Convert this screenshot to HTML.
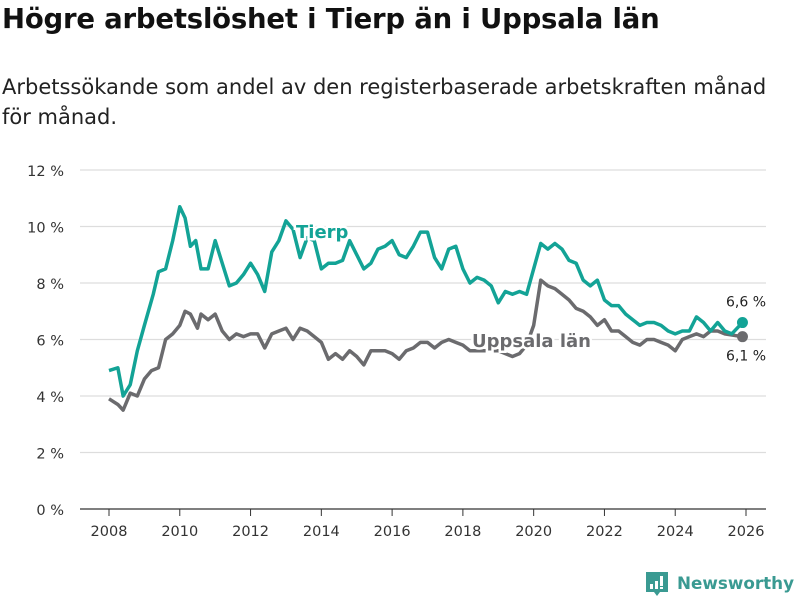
<!DOCTYPE html>
<html><head><meta charset="utf-8">
<style>
body{margin:0;background:#fff;font-family:"DejaVu Sans","Liberation Sans",sans-serif;}
#wrap{position:relative;width:800px;height:600px;overflow:hidden;}
h1{position:absolute;left:2px;top:3px;margin:0;font-size:27.5px;font-weight:bold;color:#111;white-space:nowrap;letter-spacing:-0.2px;}
p.sub{position:absolute;left:2px;top:72px;margin:0;font-size:21px;line-height:30px;color:#222;width:798px;white-space:nowrap;}
svg{position:absolute;left:0;top:0;font-family:"DejaVu Sans","Liberation Sans",sans-serif;}
</style></head><body>
<div id="wrap">
<h1>Högre arbetslöshet i Tierp än i Uppsala län</h1>
<p class="sub">Arbetssökande som andel av den registerbaserade arbetskraften månad<br>för månad.</p>
<svg id="chart" width="800" height="600"></svg>
</div>
<script>
const yTicks=[0,2,4,6,8,10,12];
const xTicks=[2008,2010,2012,2014,2016,2018,2020,2022,2024,2026];
const tierpDates=[2008.0,2008.25,2008.4,2008.6,2008.8,2009.0,2009.25,2009.4,2009.6,2009.8,2010.0,2010.15,2010.3,2010.45,2010.6,2010.8,2011.0,2011.2,2011.4,2011.6,2011.8,2012.0,2012.2,2012.4,2012.6,2012.8,2013.0,2013.2,2013.4,2013.6,2013.8,2014.0,2014.2,2014.4,2014.6,2014.8,2015.0,2015.2,2015.4,2015.6,2015.8,2016.0,2016.2,2016.4,2016.6,2016.8,2017.0,2017.2,2017.4,2017.6,2017.8,2018.0,2018.2,2018.4,2018.6,2018.8,2019.0,2019.2,2019.4,2019.6,2019.8,2020.0,2020.2,2020.4,2020.6,2020.8,2021.0,2021.2,2021.4,2021.6,2021.8,2022.0,2022.2,2022.4,2022.6,2022.8,2023.0,2023.2,2023.4,2023.6,2023.8,2024.0,2024.2,2024.4,2024.6,2024.8,2025.0,2025.2,2025.4,2025.6,2025.9];
const tierpValues=[4.9,5.0,4.0,4.4,5.6,6.5,7.6,8.4,8.5,9.5,10.7,10.3,9.3,9.5,8.5,8.5,9.5,8.7,7.9,8.0,8.3,8.7,8.3,7.7,9.1,9.5,10.2,9.9,8.9,9.6,9.5,8.5,8.7,8.7,8.8,9.5,9.0,8.5,8.7,9.2,9.3,9.5,9.0,8.9,9.3,9.8,9.8,8.9,8.5,9.2,9.3,8.5,8.0,8.2,8.1,7.9,7.3,7.7,7.6,7.7,7.6,8.5,9.4,9.2,9.4,9.2,8.8,8.7,8.1,7.9,8.1,7.4,7.2,7.2,6.9,6.7,6.5,6.6,6.6,6.5,6.3,6.2,6.3,6.3,6.8,6.6,6.3,6.6,6.3,6.2,6.6];
const uppsalaDates=[2008.0,2008.25,2008.4,2008.6,2008.8,2009.0,2009.2,2009.4,2009.6,2009.8,2010.0,2010.15,2010.3,2010.5,2010.6,2010.8,2011.0,2011.2,2011.4,2011.6,2011.8,2012.0,2012.2,2012.4,2012.6,2012.8,2013.0,2013.2,2013.4,2013.6,2013.8,2014.0,2014.2,2014.4,2014.6,2014.8,2015.0,2015.2,2015.4,2015.6,2015.8,2016.0,2016.2,2016.4,2016.6,2016.8,2017.0,2017.2,2017.4,2017.6,2017.8,2018.0,2018.2,2018.6,2019.0,2019.4,2019.6,2019.8,2020.0,2020.2,2020.4,2020.6,2020.8,2021.0,2021.2,2021.4,2021.6,2021.8,2022.0,2022.2,2022.4,2022.6,2022.8,2023.0,2023.2,2023.4,2023.6,2023.8,2024.0,2024.2,2024.4,2024.6,2024.8,2025.0,2025.2,2025.4,2025.9];
const uppsalaValues=[3.9,3.7,3.5,4.1,4.0,4.6,4.9,5.0,6.0,6.2,6.5,7.0,6.9,6.4,6.9,6.7,6.9,6.3,6.0,6.2,6.1,6.2,6.2,5.7,6.2,6.3,6.4,6.0,6.4,6.3,6.1,5.9,5.3,5.5,5.3,5.6,5.4,5.1,5.6,5.6,5.6,5.5,5.3,5.6,5.7,5.9,5.9,5.7,5.9,6.0,5.9,5.8,5.6,5.6,5.6,5.4,5.5,5.8,6.5,8.1,7.9,7.8,7.6,7.4,7.1,7.0,6.8,6.5,6.7,6.3,6.3,6.1,5.9,5.8,6.0,6.0,5.9,5.8,5.6,6.0,6.1,6.2,6.1,6.3,6.3,6.2,6.1];
const NS="http://www.w3.org/2000/svg";
const svg=document.getElementById('chart');
const X=v=>109+(v-2008)*(746-109)/18;
const Y=v=>509-v*(509-170)/12;
function mk(t,a,p){const e=document.createElementNS(NS,t);for(const k in a)e.setAttribute(k,a[k]);(p||svg).appendChild(e);return e;}
yTicks.forEach(t=>{
  const l=mk('line',{x1:80,x2:766,y1:Y(t),y2:Y(t),stroke:t===0?'#333':'#ddd','stroke-width':1.2});
  
  
  const tx=mk('text',{x:64,y:Y(t)+6,'text-anchor':'end','font-size':14.5,fill:'#333'});
  tx.textContent=t+' %';
  
  
});
xTicks.forEach(t=>{
  const l=mk('line',{x1:X(t),x2:X(t),y1:509,y2:516,stroke:'#333','stroke-width':1});
  
  
  const tx=mk('text',{x:X(t),y:536,'text-anchor':'middle','font-size':14.5,fill:'#333'});
  tx.textContent=t;
  
  
});
function line(d,v,c,name){
  const p=mk('polyline',{points:d.map((x,i)=>X(x)+','+Y(v[i])).join(' '),fill:'none',stroke:c,'stroke-width':3.5,'stroke-linejoin':'round'});
  
  
}
line(uppsalaDates,uppsalaValues,'#6b6b6e','uppsala-line');
line(tierpDates,tierpValues,'#13a396','tierp-line');
function lbl(x,y,t,c,name){
  const e=mk('text',{x:x,y:y,'font-size':18,'font-weight':'bold',fill:c,stroke:'#fff','stroke-width':5,'paint-order':'stroke'});
  e.textContent=t;
  
  
}
lbl(296,238,'Tierp','#13a396','tierp-label');
lbl(472,347,'Uppsala län','#6b6b6e','uppsala-label');
const tl=tierpValues.length-1, ul=uppsalaValues.length-1;
const c1=mk('circle',{cx:X(uppsalaDates[ul]),cy:Y(uppsalaValues[ul]),r:5.5,fill:'#6b6b6e'});


const c2=mk('circle',{cx:X(tierpDates[tl]),cy:Y(tierpValues[tl]),r:5.5,fill:'#13a396'});


const v1=mk('text',{x:746,y:Y(tierpValues[tl])-16,'text-anchor':'middle','font-size':14,fill:'#222'});
v1.textContent=tierpValues[tl].toFixed(1).replace('.',',')+' %';


const v2=mk('text',{x:746,y:Y(uppsalaValues[ul])+24,'text-anchor':'middle','font-size':14,fill:'#222'});
v2.textContent=uppsalaValues[ul].toFixed(1).replace('.',',')+' %';


const g=mk('g',{});


mk('path',{d:'M646 572h22v20h-8l-3 4-3-4h-8z',fill:'#3a9a92'},g);
mk('rect',{x:650,y:584,width:3,height:5,fill:'#fff'},g);
mk('rect',{x:655,y:581,width:3,height:8,fill:'#fff'},g);
mk('rect',{x:660,y:576,width:3,height:10,fill:'#fff'},g);
mk('rect',{x:660,y:587,width:3,height:2,fill:'#fff'},g);
const lt=mk('text',{x:677,y:589,'font-size':17,'font-weight':'bold',fill:'#3a9a92',textLength:117,lengthAdjust:'spacingAndGlyphs'},g);
lt.textContent='Newsworthy';
</script>
</body></html>
